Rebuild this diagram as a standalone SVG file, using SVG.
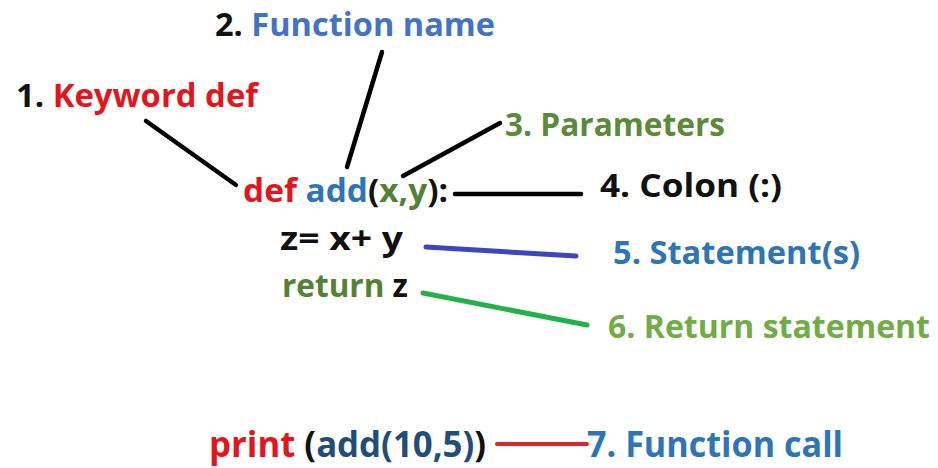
<svg xmlns="http://www.w3.org/2000/svg" width="938" height="468" viewBox="0 0 938 468">
<style>
  text { font-family: "Open Sans", "Liberation Sans", sans-serif; font-weight: 700; font-size: 32px; fill: #111; }
  .big { font-size: 35px; }
  .k { fill: #111; }
  .red { fill: #e3161d; }
  .blue1 { fill: #4472c4; }
  .blue2 { fill: #2e75b6; }
  .navy { fill: #1f4e79; }
  .grn1 { fill: #5a8a3a; }
  .grn2 { fill: #538135; }
  .grn3 { fill: #70ad47; }
  .ln { fill: none; stroke-linecap: round; }
  .blk { stroke: #000; stroke-width: 4.5; }
</style>
<rect width="938" height="468" fill="#fff"/>
<g id="connectors">
  <line class="ln blk" x1="146" y1="121" x2="236" y2="185"/>
  <line class="ln blk" x1="382" y1="52" x2="347" y2="167"/>
  <line class="ln blk" x1="403" y1="176" x2="500" y2="123"/>
  <line class="ln blk" x1="455" y1="194" x2="581" y2="194"/>
  <line class="ln" stroke="#3c46c0" stroke-width="5" x1="426" y1="247" x2="576" y2="256"/>
  <line class="ln" stroke="#21b24b" stroke-width="5" x1="423" y1="293" x2="587" y2="325"/>
  <line class="ln" stroke="#d9252b" stroke-width="4" x1="497" y1="444" x2="587" y2="444"/>
</g>
<g id="label-keyword"><text x="16" y="107" textLength="242" lengthAdjust="spacingAndGlyphs"><tspan class="k">1. </tspan><tspan class="red">Keyword def</tspan></text></g>
<g id="label-function-name"><text x="215" y="36" textLength="280" lengthAdjust="spacingAndGlyphs"><tspan class="k">2. </tspan><tspan class="blue1">Function name</tspan></text></g>
<g id="label-parameters"><text class="grn1" x="505" y="136" textLength="220" lengthAdjust="spacingAndGlyphs">3. Parameters</text></g>
<g id="code-def"><text x="243" y="202" textLength="205" lengthAdjust="spacingAndGlyphs"><tspan class="red">def </tspan><tspan class="blue2">add</tspan><tspan class="k">(</tspan><tspan class="grn2">x,y</tspan><tspan class="k">):</tspan></text></g>
<g id="label-colon"><text class="k" x="600" y="197" textLength="182" lengthAdjust="spacingAndGlyphs">4. Colon (:)</text></g>
<g id="code-statement"><text class="k" x="280" y="250" textLength="123" lengthAdjust="spacingAndGlyphs">z= x+ y</text></g>
<g id="label-statements"><text class="blue2" x="613" y="264" textLength="247" lengthAdjust="spacingAndGlyphs">5. Statement(s)</text></g>
<g id="code-return"><text x="282" y="297" textLength="126" lengthAdjust="spacingAndGlyphs"><tspan class="grn2">return </tspan><tspan class="k">z</tspan></text></g>
<g id="label-return"><text class="grn3" x="608" y="338" textLength="322" lengthAdjust="spacingAndGlyphs">6. Return statement</text></g>
<g id="code-call"><text class="big" x="209" y="457" textLength="277" lengthAdjust="spacingAndGlyphs"><tspan class="red">print </tspan><tspan class="k">(</tspan><tspan class="navy">add(10,5)</tspan><tspan class="k">)</tspan></text></g>
<g id="label-call"><text class="big blue2" x="587" y="457" textLength="256" lengthAdjust="spacingAndGlyphs">7. Function call</text></g>
</svg>
